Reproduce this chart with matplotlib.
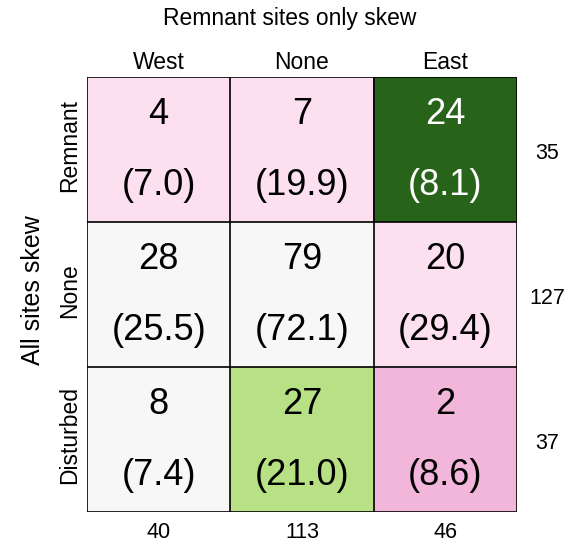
import numpy as np
import matplotlib.pyplot as plt
from matplotlib.colors import to_rgb

plt.rcParams['font.family'] = ['Liberation Sans', 'DejaVu Sans']

col_labels = ['West', 'None', 'East']
row_labels = ['Remnant', 'None', 'Disturbed']
observed = np.array([[4, 7, 24],
                     [28, 79, 20],
                     [8, 27, 2]])
expected = np.array([[7.0, 19.9, 8.1],
                     [25.5, 72.1, 29.4],
                     [7.4, 21.0, 8.6]])
row_totals = [35, 127, 37]
col_totals = [40, 113, 46]

# cell fill colours (PiYG shades)
fills = [['#fde0ef', '#fde0ef', '#276419'],
         ['#f7f7f7', '#f7f7f7', '#fde0ef'],
         ['#f7f7f7', '#b8e186', '#f1b6da']]
rgb = np.array([[to_rgb(c) for c in row] for row in fills])

fig = plt.figure(figsize=(5.74, 5.45), dpi=100)
ax = fig.add_axes([87/574, 1 - 512/545, 430/574, 435/545])
ax.imshow(rgb, aspect='auto', extent=(-0.5, 2.5, 2.5, -0.5))

for i in range(4):
    ax.axhline(i - 0.5, color='black', lw=1.2)
    ax.axvline(i - 0.5, color='black', lw=1.2)

for r in range(3):
    for c in range(3):
        tc = 'white' if fills[r][c] == '#276419' else 'black'
        ax.text(c, r - 0.24, str(observed[r, c]), ha='center', va='center',
                fontsize=26, color=tc)
        ax.text(c, r + 0.245, '(%.1f)' % expected[r, c], ha='center', va='center',
                fontsize=26, color=tc)

ax.set_xlim(-0.5, 2.5)
ax.set_ylim(2.5, -0.5)
ax.set_xticks([])
ax.set_yticks([])
for s in ax.spines.values():
    s.set_visible(False)

for c in range(3):
    ax.text(c, -0.6, col_labels[c], ha='center', va='center', fontsize=16.5)
    ax.text(c, 2.64, str(col_totals[c]), ha='center', va='center', fontsize=15.5)
for r in range(3):
    ax.text(-0.62, r - 0.03, row_labels[r], ha='center', va='center', rotation=90,
            fontsize=16.5)
    ax.text(2.71, r + 0.03, str(row_totals[r]), ha='center', va='center', fontsize=15.5)

fig.text(290/574, 1 - 18/545, 'Remnant sites only skew',
         ha='center', va='center', fontsize=16.5)
fig.text(33/574, 1 - 290/545, 'All sites skew', ha='center', va='center',
         rotation=90, fontsize=18)

fig.savefig('out.png', dpi=100)
